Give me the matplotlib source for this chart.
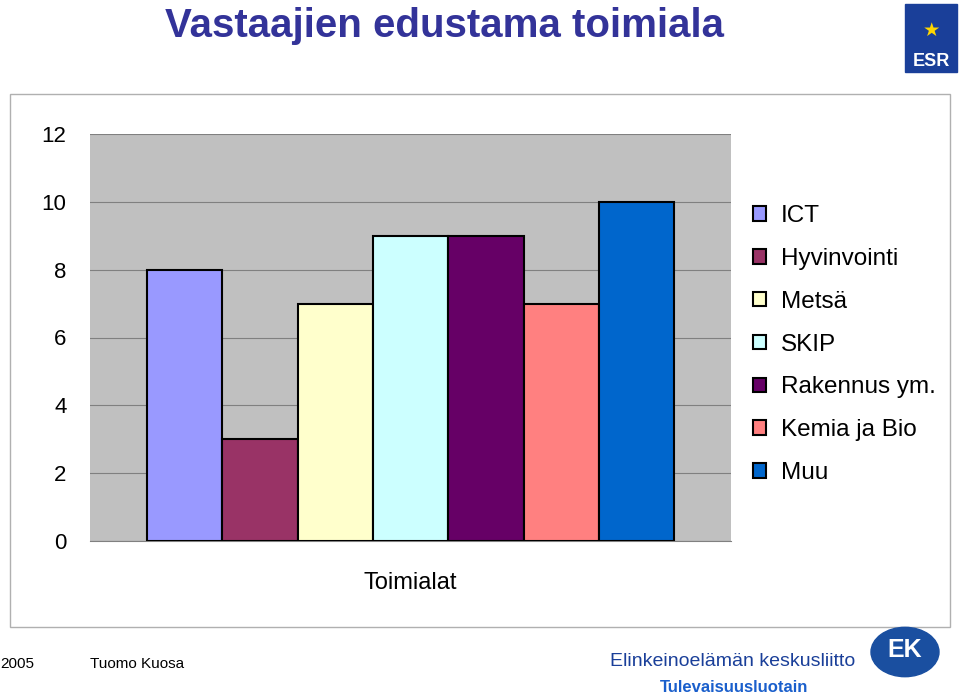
import matplotlib
matplotlib.use("Agg")
import matplotlib.pyplot as plt
from matplotlib.patches import Rectangle, Circle

categories = ["ICT", "Hyvinvointi", "Metsä", "SKIP", "Rakennus ym.", "Kemia ja Bio", "Muu"]
values = [8, 3, 7, 9, 9, 7, 10]
colors = ["#9999ff", "#993366", "#ffffcc", "#ccffff", "#660066", "#ff8080", "#0066cc"]
yticks = [0, 2, 4, 6, 8, 10, 12]

W, H = 960, 697
fig = plt.figure(figsize=(9.6, 6.97), dpi=100)

# chart frame
fig.patches.append(Rectangle((10 / W, 1 - 627 / H), 940 / W, 533 / H, transform=fig.transFigure,
                             fill=False, edgecolor="#b0b0b0", lw=1))

ax = fig.add_axes([90 / W, 1 - 541 / H, 641 / W, 407 / H])
ax.set_facecolor("#c0c0c0")
for i, (v, c) in enumerate(zip(values, colors)):
    ax.bar(i, v, width=1, align="edge", color=c, edgecolor="black", lw=1.5, label=categories[i], zorder=3)
ax.set_xlim(-0.757, 7.755)
ax.set_ylim(0, 12)
ax.set_yticks(yticks)
ax.set_yticklabels([str(t) for t in yticks], fontsize=16, fontfamily="Liberation Sans")
ax.tick_params(axis="y", length=0, pad=17)
ax.set_xticks([])
ax.grid(axis="y", color="#808080", lw=0.8, zorder=0)
for s in ["top", "right", "left"]:
    ax.spines[s].set_visible(False)
ax.spines["bottom"].set_color("#808080")
ax.set_xlabel("Toimialat", fontsize=17, fontfamily="Liberation Sans", labelpad=22)

ax.legend(loc="upper left", bbox_to_anchor=(731 / W, 1 - 183 / H), bbox_transform=fig.transFigure,
          frameon=False, prop={"family": "Liberation Sans", "size": 17.5}, handlelength=0.55,
          handleheight=0.55, labelspacing=0.86, handletextpad=0.6)

fig.text(165 / W, 1 - 26 / H, "Vastaajien edustama toimiala", fontsize=29, fontweight="bold",
         color="#333399", va="center", fontfamily="Liberation Sans")

# ESR logo approximation
fig.patches.append(Rectangle((905 / W, 1 - 72 / H), 52 / W, 68 / H, transform=fig.transFigure,
                             color="#1a3f99"))
fig.text(931 / W, 1 - 62 / H, "ESR", fontsize=13, fontweight="bold", color="white",
         ha="center", va="center", fontfamily="Liberation Sans")
fig.text(931 / W, 1 - 30 / H, "★", fontsize=14, color="#ffd700", ha="center", va="center")

# footer
fig.text(0, 1 - 664 / H, "2005", fontsize=11, va="center", fontfamily="Liberation Sans")
fig.text(90 / W, 1 - 664 / H, "Tuomo Kuosa", fontsize=11, va="center", fontfamily="Liberation Sans")
fig.text(610 / W, 1 - 661 / H, "Elinkeinoelämän keskusliitto", fontsize=14, color="#1a3f99",
         va="center", fontfamily="Liberation Sans")
fig.text(660 / W, 1 - 687 / H, "Tulevaisuusluotain", fontsize=12, color="#1a5fcc", fontweight="bold",
         va="center", fontfamily="Liberation Sans")
fig.patches.append(Circle((905 / W, 1 - 652 / H), 34 / W, transform=fig.transFigure,
                          color="#1a4fa0"))
fig.text(905 / W, 1 - 650 / H, "EK", fontsize=18, fontweight="bold", color="white",
         ha="center", va="center", fontfamily="Liberation Sans")

fig.savefig("out.png", dpi=100)
